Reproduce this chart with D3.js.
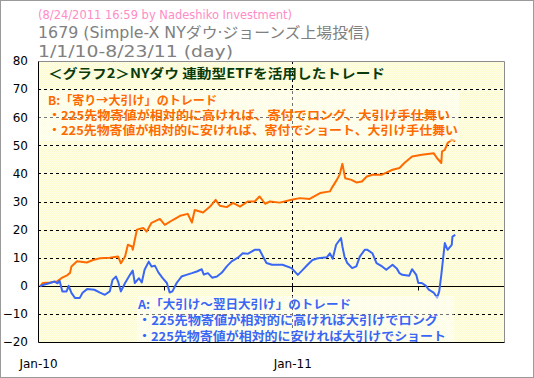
<!DOCTYPE html>
<html>
<head>
<meta charset="utf-8">
<script src="https://cdn.jsdelivr.net/npm/d3@7"></script>
<style>
  body { margin: 0; background: #fff; }
  svg { display: block; }
  .jp { font-family: "Noto Sans CJK JP", "DejaVu Sans", sans-serif; font-weight: bold; }
  .tick text { font-family: "DejaVu Sans", sans-serif; font-size: 12px; }
</style>
</head>
<body>
<svg id="chart" width="534" height="378"></svg>
<script>
// A: 大引け～翌日大引け (blue)
const seriesA = [
  ["2010-01-04", -0.2], ["2010-01-08", 0.3], ["2010-01-18", 1.0], ["2010-01-25", 1.5],
  ["2010-01-29", 0.9], ["2010-02-01", 1.8], ["2010-02-05", -2.0], ["2010-02-11", -2.0],
  ["2010-02-14", 0.0], ["2010-02-18", -2.5], ["2010-02-23", -4.3], ["2010-03-02", -4.3],
  ["2010-03-06", -2.5], ["2010-03-13", -1.1], ["2010-03-23", -1.4], ["2010-03-31", -2.4],
  ["2010-04-07", -3.2], ["2010-04-14", -2.0], ["2010-04-18", 2.1], ["2010-04-23", 3.3],
  ["2010-04-26", 1.5], ["2010-04-30", -2.0], ["2010-05-06", 1.0], ["2010-05-13", 3.9],
  ["2010-05-17", 5.4], ["2010-05-20", 1.0], ["2010-05-26", 2.7], ["2010-05-30", 1.2],
  ["2010-06-03", 5.7], ["2010-06-09", 8.6], ["2010-06-13", 6.9], ["2010-06-18", 7.1],
  ["2010-06-23", 4.7], ["2010-06-29", 2.7], ["2010-07-05", 1.0], ["2010-07-09", -2.4],
  ["2010-07-13", -2.0], ["2010-07-19", 1.0], ["2010-07-26", 3.3], ["2010-08-02", 3.9],
  ["2010-08-10", 4.5], ["2010-08-17", 5.1], ["2010-08-24", 5.9], ["2010-08-27", 4.0],
  ["2010-09-02", 4.5], ["2010-09-08", 2.9], ["2010-09-15", 3.3], ["2010-09-22", 4.7],
  ["2010-09-29", 6.9], ["2010-10-06", 8.7], ["2010-10-15", 10.0], ["2010-10-22", 11.6],
  ["2010-10-29", 11.4], ["2010-11-08", 12.8], ["2010-11-15", 12.8], ["2010-11-20", 10.4],
  ["2010-11-25", 8.1], ["2010-12-03", 7.5], ["2010-12-18", 7.5], ["2010-12-31", 6.3],
  ["2011-01-09", 3.9], ["2011-01-15", 5.4], ["2011-01-23", 7.5], ["2011-01-30", 9.2],
  ["2011-02-07", 9.8], ["2011-02-20", 10.2], ["2011-02-24", 11.6], ["2011-02-28", 9.6],
  ["2011-03-05", 14.6], ["2011-03-12", 17.0], ["2011-03-14", 14.0], ["2011-03-17", 10.4],
  ["2011-03-21", 8.1], ["2011-03-28", 6.3], ["2011-04-03", 6.9], ["2011-04-08", 10.4],
  ["2011-04-15", 12.8], ["2011-04-19", 12.8], ["2011-04-26", 11.6], ["2011-05-02", 8.1],
  ["2011-05-10", 6.9], ["2011-05-16", 5.7], ["2011-05-25", 7.5], ["2011-05-31", 6.2],
  ["2011-06-04", 4.5], ["2011-06-08", 3.9], ["2011-06-18", 3.6], ["2011-06-22", 5.9],
  ["2011-06-28", 3.9], ["2011-07-01", 1.0], ["2011-07-06", 1.0], ["2011-07-12", 0.0],
  ["2011-07-16", -1.4], ["2011-07-23", -2.4], ["2011-07-28", -4.2], ["2011-07-31", -2.0],
  ["2011-08-03", 3.9], ["2011-08-08", 15.2], ["2011-08-12", 12.8], ["2011-08-18", 14.6],
  ["2011-08-19", 17.5], ["2011-08-23", 18.1]
];

// B: 寄り→大引け (orange)
const seriesB = [
  ["2010-01-04", -0.2], ["2010-01-08", 1.0], ["2010-01-18", 1.2], ["2010-01-28", 1.5],
  ["2010-02-04", 2.8], ["2010-02-11", 3.6], ["2010-02-16", 4.6], ["2010-02-18", 6.9],
  ["2010-02-26", 8.7], ["2010-03-12", 8.3], ["2010-03-21", 9.2], ["2010-03-31", 9.8],
  ["2010-04-14", 10.0], ["2010-04-26", 10.4], ["2010-04-30", 8.0], ["2010-05-06", 10.4],
  ["2010-05-10", 14.6], ["2010-05-16", 14.0], ["2010-05-17", 12.8], ["2010-05-20", 16.4],
  ["2010-05-23", 20.0], ["2010-06-01", 20.6], ["2010-06-06", 19.3], ["2010-06-13", 22.4],
  ["2010-06-25", 23.8], ["2010-07-02", 21.7], ["2010-07-14", 23.5], ["2010-07-24", 24.9],
  ["2010-08-04", 25.6], ["2010-08-10", 22.5], ["2010-08-14", 27.0], ["2010-08-26", 26.1],
  ["2010-09-05", 28.2], ["2010-09-13", 30.6], ["2010-09-19", 28.5], ["2010-09-29", 28.0],
  ["2010-10-08", 29.5], ["2010-10-18", 28.2], ["2010-10-29", 30.0], ["2010-11-08", 30.0],
  ["2010-11-15", 31.8], ["2010-11-23", 29.2], ["2010-11-30", 30.0], ["2010-12-14", 29.6],
  ["2010-12-31", 30.6], ["2011-01-12", 31.2], ["2011-01-26", 30.9], ["2011-02-10", 33.0],
  ["2011-02-24", 33.6], ["2011-02-28", 35.3], ["2011-03-06", 37.7], ["2011-03-10", 39.5],
  ["2011-03-14", 43.4], ["2011-03-18", 38.3], ["2011-03-27", 37.7], ["2011-04-03", 36.8],
  ["2011-04-11", 37.1], ["2011-04-18", 38.9], ["2011-04-26", 39.5], ["2011-05-09", 39.5],
  ["2011-05-16", 40.3], ["2011-05-25", 41.3], ["2011-06-04", 41.9], ["2011-06-11", 43.7],
  ["2011-06-22", 46.0], ["2011-07-06", 46.6], ["2011-07-23", 47.2], ["2011-07-28", 45.4],
  ["2011-08-03", 43.7], ["2011-08-04", 47.8], ["2011-08-08", 48.4], ["2011-08-12", 50.8],
  ["2011-08-18", 52.0], ["2011-08-23", 51.4]
];

const yTicks = [-20, -10, 0, 10, 20, 30, 40, 50, 60, 70, 80];
const xLabelDates = ["2010-01-01", "2011-01-01"];
const xMinorDates = ["2010-07-01", "2011-07-01"];

const titleLines = [
  "(8/24/2011 16:59 by Nadeshiko Investment)",
  "1679 (Simple-X NYダウ·ジョーンズ上場投信)",
  "1/1/10-8/23/11 (day)"
];
const heading = "＜グラフ2＞NYダウ 連動型ETFを活用したトレード";
const notesB = [
  "B:「寄り→大引け」のトレード",
  "・225先物寄値が相対的に高ければ、寄付でロング、大引け手仕舞い",
  "・225先物寄値が相対的に安ければ、寄付でショート、大引け手仕舞い"
];
const notesA = [
  "A:「大引け～翌日大引け」のトレード",
  "・225先物寄値が相対的に高ければ大引けでロング",
  "・225先物寄値が相対的に安ければ大引けでショート"
];

const parse = d3.timeParse("%Y-%m-%d");
const svg = d3.select("#chart");
const margin = {left: 38, top: 61, right: 30, bottom: 36};
const width = 534, height = 378;
const innerWidth = width - margin.left - margin.right;
const innerHeight = height - margin.top - margin.bottom;

// frame
svg.append("rect").attr("x", 0.5).attr("y", 0.5).attr("width", width - 1).attr("height", height - 1)
  .attr("fill", "#fff").attr("stroke", "#9a9a9a");

// titles
const tSpec = [
  {y: 19, size: 12, color: "#ff8cc6", len: 254},
  {y: 38, size: 15, color: "#808080", len: 332},
  {y: 57, size: 15, color: "#808080", len: 195}
];
titleLines.forEach((t, i) => {
  svg.append("text")
    .attr("x", 38).attr("y", tSpec[i].y)
    .attr("font-family", "'DejaVu Sans', 'Noto Sans CJK JP', sans-serif")
    .attr("font-size", tSpec[i].size)
    .attr("fill", tSpec[i].color)
    .attr("textLength", tSpec[i].len).attr("lengthAdjust", "spacingAndGlyphs")
    .text(t);
});

const xScale = d3.scaleTime()
  .domain([parse("2010-01-01"), parse("2011-11-01")])
  .range([0, innerWidth]);

const yScale = d3.scaleLinear()
  .domain([-20, 80])
  .range([innerHeight, 0]);

const defs = svg.append("defs");
const pat = defs.append("pattern").attr("id", "dots").attr("width", 2).attr("height", 2)
  .attr("patternUnits", "userSpaceOnUse");
pat.append("rect").attr("width", 2).attr("height", 2).attr("fill", "#ffffe8");
pat.append("rect").attr("width", 1).attr("height", 1).attr("fill", "#fbfbcf");
pat.append("rect").attr("x", 1).attr("y", 1).attr("width", 1).attr("height", 1).attr("fill", "#fbfbcf");

const g = svg.append("g").attr("transform", `translate(${margin.left},${margin.top})`);

g.append("rect").attr("width", innerWidth).attr("height", innerHeight).attr("fill", "url(#dots)");

// horizontal grid
g.selectAll(".hgrid").data(yTicks.filter(d => d !== 0 && d !== -20 && d !== 80))
  .enter().append("line")
  .attr("class", "hgrid")
  .attr("x1", 0).attr("x2", innerWidth)
  .attr("y1", d => Math.round(yScale(d)) + 0.5).attr("y2", d => Math.round(yScale(d)) + 0.5)
  .attr("stroke", "#000").attr("stroke-dasharray", "3,3");

// vertical grid at year
g.append("line")
  .attr("x1", Math.round(xScale(parse("2011-01-01"))) + 0.5)
  .attr("x2", Math.round(xScale(parse("2011-01-01"))) + 0.5)
  .attr("y1", 0).attr("y2", innerHeight)
  .attr("stroke", "#000").attr("stroke-dasharray", "3,3");

// zero line with half-year ticks
const zeroY = Math.round(yScale(0)) + 0.5;
g.append("line").attr("x1", 0).attr("x2", innerWidth).attr("y1", zeroY).attr("y2", zeroY)
  .attr("stroke", "#000");
g.selectAll(".minor").data(xLabelDates.concat(xMinorDates))
  .enter().append("line")
  .attr("x1", d => Math.round(xScale(parse(d))) + 0.5).attr("x2", d => Math.round(xScale(parse(d))) + 0.5)
  .attr("y1", zeroY).attr("y2", zeroY + 4)
  .attr("stroke", "#000");

// lines
const line = d3.line()
  .x(d => xScale(parse(d[0])))
  .y(d => yScale(d[1]));

g.append("path").datum(seriesB).attr("d", line)
  .attr("fill", "none").attr("stroke", "#ff6a00").attr("stroke-width", 2).attr("stroke-linejoin", "round");
g.append("path").datum(seriesA).attr("d", line)
  .attr("fill", "none").attr("stroke", "#3a66f5").attr("stroke-width", 2).attr("stroke-linejoin", "round");

// plot border
g.append("path")
  .attr("d", `M0.5,0.5H${innerWidth + 0.5}V${innerHeight + 0.5}`)
  .attr("fill", "none").attr("stroke", "#8c8c8c");
g.append("path")
  .attr("d", `M0.5,0.5V${innerHeight + 0.5}H${innerWidth + 0.5}`)
  .attr("fill", "none").attr("stroke", "#000");

// y axis labels
const yAxis = d3.axisLeft(yScale).tickValues(yTicks).tickSize(0).tickPadding(10);
g.append("g").call(yAxis).call(s => s.select(".domain").remove())
  .selectAll("text").attr("fill", "#000");

// x axis labels
const xAxis = d3.axisBottom(xScale)
  .tickValues(xLabelDates.map(parse))
  .tickFormat(d3.timeFormat("%b-%y"))
  .tickSize(0).tickPadding(17);
g.append("g").attr("transform", `translate(0,${innerHeight})`).call(xAxis)
  .call(s => s.select(".domain").remove())
  .selectAll("text").attr("fill", "#000");

// note boxes (semi-transparent white)
const boxB = {x: 0, y: 30, w: 420, h: 50};
const boxA = {x: 98, y: 235, w: 317, h: innerHeight - 235};
[boxB, boxA].forEach(b => {
  g.append("rect").attr("x", b.x + 1).attr("y", b.y).attr("width", b.w).attr("height", b.h)
    .attr("fill", "#fff").attr("fill-opacity", 0.45);
});

// heading
g.append("text").attr("class", "jp")
  .attr("x", 10).attr("y", 17).attr("font-size", 13).attr("fill", "#0a3a0a")
  .attr("textLength", 337).attr("lengthAdjust", "spacingAndGlyphs")
  .text(heading);

const bLen = [169, 402, 410];
notesB.forEach((t, i) => {
  g.append("text").attr("class", "jp")
    .attr("x", 10).attr("y", 44 + i * 15).attr("font-size", 12).attr("fill", "#ff6a00")
    .attr("textLength", bLen[i]).attr("lengthAdjust", "spacingAndGlyphs")
    .text(t);
});

const aLen = [213, 300, 308];
notesA.forEach((t, i) => {
  g.append("text").attr("class", "jp")
    .attr("x", 100).attr("y", 248 + i * 16).attr("font-size", 12).attr("fill", "#3a66f5")
    .attr("textLength", aLen[i]).attr("lengthAdjust", "spacingAndGlyphs")
    .text(t);
});
</script>
</body>
</html>
